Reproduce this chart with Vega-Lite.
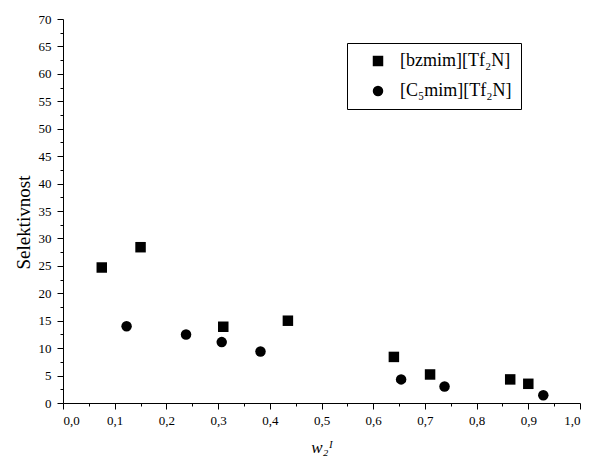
{
  "$schema": "https://vega.github.io/schema/vega-lite/v6.json",
  "width": 517,
  "height": 384,
  "autosize": "none",
  "padding": {"left": 63, "top": 19, "right": 10, "bottom": 63},
  "background": "white",
  "config": {
    "view": {"stroke": null},
    "locale": {"number": {"decimal": ",", "thousands": ".", "grouping": [3], "currency": ["", ""]}}
  },
  "data": {"values": [
    {"w": 0.075, "s": 24.7, "il": "[bzmim][Tf₂N]"},
    {"w": 0.150, "s": 28.4, "il": "[bzmim][Tf₂N]"},
    {"w": 0.310, "s": 13.9, "il": "[bzmim][Tf₂N]"},
    {"w": 0.435, "s": 15.0, "il": "[bzmim][Tf₂N]"},
    {"w": 0.640, "s": 8.4, "il": "[bzmim][Tf₂N]"},
    {"w": 0.710, "s": 5.2, "il": "[bzmim][Tf₂N]"},
    {"w": 0.865, "s": 4.3, "il": "[bzmim][Tf₂N]"},
    {"w": 0.900, "s": 3.5, "il": "[bzmim][Tf₂N]"},
    {"w": 0.123, "s": 14.0, "il": "[C₅mim][Tf₂N]"},
    {"w": 0.238, "s": 12.5, "il": "[C₅mim][Tf₂N]"},
    {"w": 0.307, "s": 11.1, "il": "[C₅mim][Tf₂N]"},
    {"w": 0.382, "s": 9.4, "il": "[C₅mim][Tf₂N]"},
    {"w": 0.654, "s": 4.3, "il": "[C₅mim][Tf₂N]"},
    {"w": 0.738, "s": 3.0, "il": "[C₅mim][Tf₂N]"},
    {"w": 0.929, "s": 1.4, "il": "[C₅mim][Tf₂N]"}
  ]},
  "resolve": {"axis": {"x": "independent", "y": "independent"}},
  "layer": [
    {
      "mark": {"type": "point", "opacity": 0},
      "encoding": {
        "x": {
          "field": "w", "type": "quantitative",
          "scale": {"domain": [0, 1], "nice": false, "zero": false},
          "axis": {
            "orient": "bottom", "grid": false, "domain": false, "labels": false, "title": null,
            "tickColor": "black", "tickSize": 3,
            "values": [0.05, 0.15, 0.25, 0.35, 0.45, 0.55, 0.65, 0.75, 0.85, 0.95]
          }
        },
        "y": {
          "field": "s", "type": "quantitative",
          "scale": {"domain": [0, 70], "nice": false, "zero": true},
          "axis": {
            "orient": "left", "grid": false, "domain": false, "labels": false, "title": null,
            "tickColor": "black", "tickSize": 3,
            "values": [2.5, 7.5, 12.5, 17.5, 22.5, 27.5, 32.5, 37.5, 42.5, 47.5, 52.5, 57.5, 62.5, 67.5]
          }
        }
      }
    },
    {
      "mark": {"type": "point", "filled": true, "opacity": 1},
      "encoding": {
        "x": {
          "field": "w", "type": "quantitative",
          "scale": {"domain": [0, 1], "nice": false, "zero": false},
          "axis": {
            "orient": "bottom", "grid": false, "domainColor": "black", "tickColor": "black", "labelColor": "black", "titleColor": "black",
            "labelFont": "Liberation Serif", "titleFont": "Liberation Serif", "titleFontWeight": "normal",
            "values": [0, 0.1, 0.2, 0.3, 0.4, 0.5, 0.6, 0.7, 0.8, 0.9, 1.0],
            "format": ".1f",
            "tickSize": 6,
            "labelFontSize": 13,
            "labelPadding": 5,
            "title": "w₂ᴵ",
            "titleFontSize": 17,
            "titleFontStyle": "italic",
            "titlePadding": 12
          }
        },
        "y": {
          "field": "s", "type": "quantitative",
          "scale": {"domain": [0, 70], "nice": false, "zero": true},
          "axis": {
            "orient": "left", "grid": false, "domainColor": "black", "tickColor": "black", "labelColor": "black", "titleColor": "black",
            "labelFont": "Liberation Serif", "titleFont": "Liberation Serif", "titleFontWeight": "normal",
            "values": [0, 5, 10, 15, 20, 25, 30, 35, 40, 45, 50, 55, 60, 65, 70],
            "format": "d",
            "tickSize": 6,
            "labelFontSize": 13,
            "labelPadding": 6,
            "title": "Selektivnost",
            "titleFontSize": 19,
            "titlePadding": 5,
            "titleY": 203
          }
        },
        "shape": {
          "field": "il", "type": "nominal",
          "scale": {"domain": ["[bzmim][Tf₂N]", "[C₅mim][Tf₂N]"], "range": ["square", "circle"]},
          "legend": {
            "title": null,
            "orient": "none",
            "legendX": 284,
            "legendY": 24,
            "strokeColor": "black",
            "fillColor": "white",
            "padding": 9,
            "rowPadding": 12,
            "labelFontSize": 18,
            "labelFont": "Liberation Serif",
            "labelColor": "black",
            "labelOffset": 13,
            "symbolSize": 110,
            "symbolFillColor": "black",
            "symbolStrokeColor": "black",
            "symbolOffset": 13
          }
        },
        "color": {"value": "black"},
        "size": {"value": 110}
      }
    }
  ]
}
